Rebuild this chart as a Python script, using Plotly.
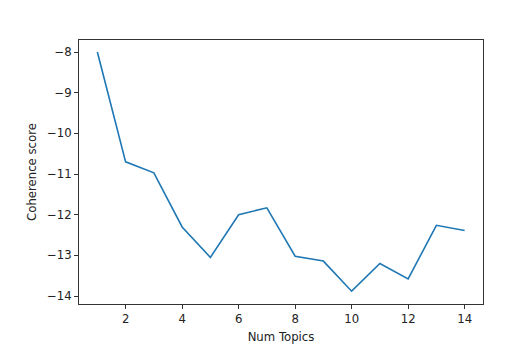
import plotly.graph_objects as go

num_topics = [1, 2, 3, 4, 5, 6, 7, 8, 9, 10, 11, 12, 13, 14]
coherence = [-8.0, -10.70, -10.97, -12.30, -13.05, -12.0, -11.83, -13.02, -13.14, -13.88, -13.20, -13.58, -12.26, -12.39]
x_ticks = [2, 4, 6, 8, 10, 12, 14]
y_ticks = [-8, -9, -10, -11, -12, -13, -14]

font = dict(family="DejaVu Sans", size=11.7, color="#222222")

fig = go.Figure(go.Scatter(x=num_topics, y=coherence, mode="lines",
                           line=dict(color="#1f77b4", width=1.6)))

axis_common = dict(showline=True, mirror=True, linecolor="#333333", linewidth=1,
                   ticks="outside", ticklen=4, tickcolor="#333333", showgrid=False,
                   zeroline=False, tickfont=font)

fig.update_xaxes(range=[0.35, 14.65], tickvals=x_ticks,
                 title=dict(text="Num Topics", font=font, standoff=7),
                 **axis_common)
fig.update_yaxes(range=[-14.195, -7.705], tickvals=y_ticks, ticktext=["−" + str(-v) for v in y_ticks],
                 title=dict(text="Coherence score", font=font, standoff=7),
                 **axis_common)

fig.update_layout(width=524, height=353, margin=dict(l=79, r=41, t=40, b=49),
                  plot_bgcolor="white", paper_bgcolor="white", showlegend=False)

fig.write_html("out.html")
